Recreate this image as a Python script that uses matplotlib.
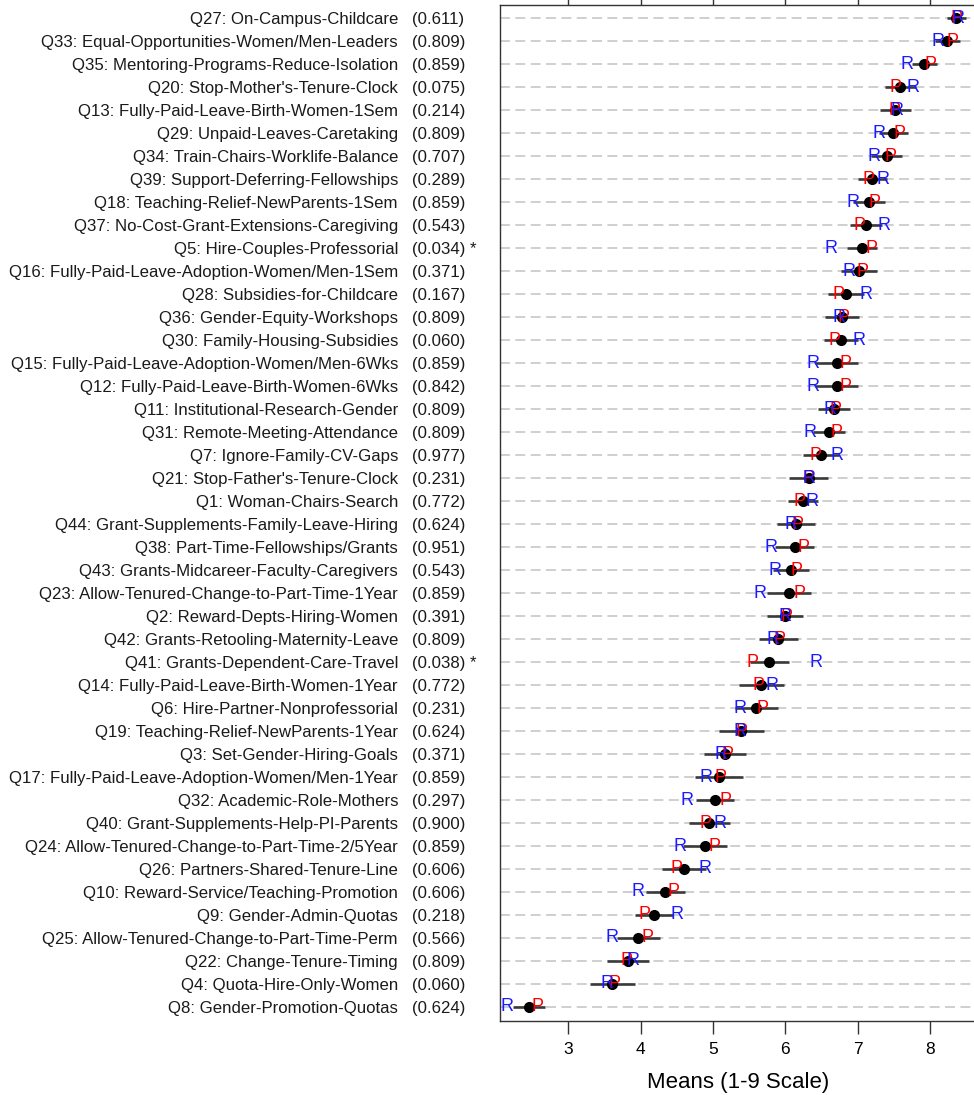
import matplotlib
matplotlib.use("Agg")
import matplotlib.pyplot as plt
import matplotlib.transforms as mtransforms

plt.rcParams["font.family"] = ["Liberation Sans", "DejaVu Sans"]

# questions, top to bottom
labels = [
    "Q27: On-Campus-Childcare",
    "Q33: Equal-Opportunities-Women/Men-Leaders",
    "Q35: Mentoring-Programs-Reduce-Isolation",
    "Q20: Stop-Mother's-Tenure-Clock",
    "Q13: Fully-Paid-Leave-Birth-Women-1Sem",
    "Q29: Unpaid-Leaves-Caretaking",
    "Q34: Train-Chairs-Worklife-Balance",
    "Q39: Support-Deferring-Fellowships",
    "Q18: Teaching-Relief-NewParents-1Sem",
    "Q37: No-Cost-Grant-Extensions-Caregiving",
    "Q5: Hire-Couples-Professorial",
    "Q16: Fully-Paid-Leave-Adoption-Women/Men-1Sem",
    "Q28: Subsidies-for-Childcare",
    "Q36: Gender-Equity-Workshops",
    "Q30: Family-Housing-Subsidies",
    "Q15: Fully-Paid-Leave-Adoption-Women/Men-6Wks",
    "Q12: Fully-Paid-Leave-Birth-Women-6Wks",
    "Q11: Institutional-Research-Gender",
    "Q31: Remote-Meeting-Attendance",
    "Q7: Ignore-Family-CV-Gaps",
    "Q21: Stop-Father's-Tenure-Clock",
    "Q1: Woman-Chairs-Search",
    "Q44: Grant-Supplements-Family-Leave-Hiring",
    "Q38: Part-Time-Fellowships/Grants",
    "Q43: Grants-Midcareer-Faculty-Caregivers",
    "Q23: Allow-Tenured-Change-to-Part-Time-1Year",
    "Q2: Reward-Depts-Hiring-Women",
    "Q42: Grants-Retooling-Maternity-Leave",
    "Q41: Grants-Dependent-Care-Travel",
    "Q14: Fully-Paid-Leave-Birth-Women-1Year",
    "Q6: Hire-Partner-Nonprofessorial",
    "Q19: Teaching-Relief-NewParents-1Year",
    "Q3: Set-Gender-Hiring-Goals",
    "Q17: Fully-Paid-Leave-Adoption-Women/Men-1Year",
    "Q32: Academic-Role-Mothers",
    "Q40: Grant-Supplements-Help-PI-Parents",
    "Q24: Allow-Tenured-Change-to-Part-Time-2/5Year",
    "Q26: Partners-Shared-Tenure-Line",
    "Q10: Reward-Service/Teaching-Promotion",
    "Q9: Gender-Admin-Quotas",
    "Q25: Allow-Tenured-Change-to-Part-Time-Perm",
    "Q22: Change-Tenure-Timing",
    "Q4: Quota-Hire-Only-Women",
    "Q8: Gender-Promotion-Quotas",
]

pvals = [0.611, 0.809, 0.859, 0.075, 0.214, 0.809, 0.707, 0.289, 0.859, 0.543,
         0.034, 0.371, 0.167, 0.809, 0.060, 0.859, 0.842, 0.809, 0.809, 0.977,
         0.231, 0.772, 0.624, 0.951, 0.543, 0.859, 0.391, 0.809, 0.038, 0.772,
         0.231, 0.624, 0.371, 0.859, 0.297, 0.900, 0.859, 0.606, 0.606, 0.218,
         0.566, 0.809, 0.060, 0.624]

# overall means and half-widths of the intervals
means = [8.36, 8.24, 7.92, 7.59, 7.52, 7.49, 7.40, 7.20, 7.16, 7.11,
         7.06, 7.02, 6.84, 6.78, 6.77, 6.71, 6.71, 6.67, 6.60, 6.49,
         6.32, 6.24, 6.15, 6.13, 6.08, 6.05, 6.00, 5.90, 5.78, 5.67,
         5.60, 5.39, 5.17, 5.08, 5.03, 4.95, 4.89, 4.60, 4.34, 4.18,
         3.97, 3.82, 3.61, 2.46]

half_ci = [0.13, 0.17, 0.17, 0.21, 0.21, 0.20, 0.21, 0.20, 0.22, 0.22,
           0.21, 0.25, 0.25, 0.235, 0.23, 0.30, 0.30, 0.22, 0.22, 0.25,
           0.27, 0.21, 0.26, 0.27, 0.25, 0.30, 0.25, 0.27, 0.27, 0.31,
           0.30, 0.31, 0.29, 0.33, 0.265, 0.28, 0.30, 0.30, 0.27, 0.265,
           0.30, 0.29, 0.31, 0.22]

# group means: P and R
p_means = [8.36, 8.31, 8.00, 7.52, 7.51, 7.58, 7.46, 7.15, 7.23, 7.02,
           7.19, 7.07, 6.74, 6.80, 6.68, 6.83, 6.83, 6.69, 6.70, 6.42,
           6.32, 6.20, 6.17, 6.25, 6.16, 6.20, 6.01, 5.92, 5.55, 5.63,
           5.69, 5.40, 5.20, 5.11, 5.17, 4.90, 5.02, 4.49, 4.45, 4.06,
           4.09, 3.80, 3.64, 2.57]

r_means = [8.38, 8.11, 7.68, 7.77, 7.55, 7.30, 7.22, 7.35, 6.93, 7.37,
           6.63, 6.88, 7.12, 6.74, 7.02, 6.38, 6.38, 6.62, 6.34, 6.71,
           6.33, 6.37, 6.08, 5.80, 5.86, 5.65, 5.99, 5.83, 6.42, 5.82,
           5.37, 5.38, 5.11, 4.91, 4.64, 5.10, 4.55, 4.89, 3.97, 4.50,
           3.60, 3.90, 3.54, 2.15]

n = len(labels)
ypos = [n - i for i in range(n)]

fig = plt.figure(figsize=(9.74, 10.95), dpi=100)
ax = fig.add_axes([499.5 / 974, 1 - 1020.7 / 1095, (976 - 499.5) / 974, (1020.7 - 4.7) / 1095])

for y in ypos:
    ax.axhline(y, color="#cccccc", lw=1.3, ls=(0, (5.5, 3)), zorder=1)

ax.hlines(ypos, [m - h for m, h in zip(means, half_ci)],
          [m + h for m, h in zip(means, half_ci)], color="#3a3a3a", lw=1.9, zorder=2)
ax.plot(means, ypos, "o", color="black", ms=7, zorder=3)

for y, p, r in zip(ypos, p_means, r_means):
    ax.text(p, y, "P", color="#ff0000", fontsize=13, ha="center", va="center", zorder=4)
    ax.text(r, y, "R", color="#1a1aff", fontsize=13, ha="center", va="center", zorder=5)

ax.set_xlim(2.049, 8.635)
ax.set_ylim(0.4, n + 0.6)
ax.set_yticks([])
ax.set_xticks([3, 4, 5, 6, 7, 8])
ax.tick_params(axis="x", which="both", top=True, bottom=True, direction="out",
               length=9, width=1, color="#333333", labelsize=12.5, pad=6)
for s in ax.spines.values():
    s.set_color("#333333")
    s.set_linewidth(1)
ax.set_xlabel("Means (1-9 Scale)", fontsize=16, labelpad=11)

# row labels to the left of the panel
trans = mtransforms.blended_transform_factory(fig.transFigure, ax.transData)
for y, lab, pv in zip(ypos, labels, pvals):
    ax.text(398 / 974, y, lab, transform=trans, ha="right", va="center_baseline",
            fontsize=12.1, color="#1a1a1a", clip_on=False)
    star = " *" if pv < 0.05 else ""
    ax.text(412 / 974, y, f"({pv:.3f}){star}", transform=trans, ha="left",
            va="center_baseline", fontsize=12.1, color="#1a1a1a", clip_on=False)

fig.savefig("out.png", dpi=100)
